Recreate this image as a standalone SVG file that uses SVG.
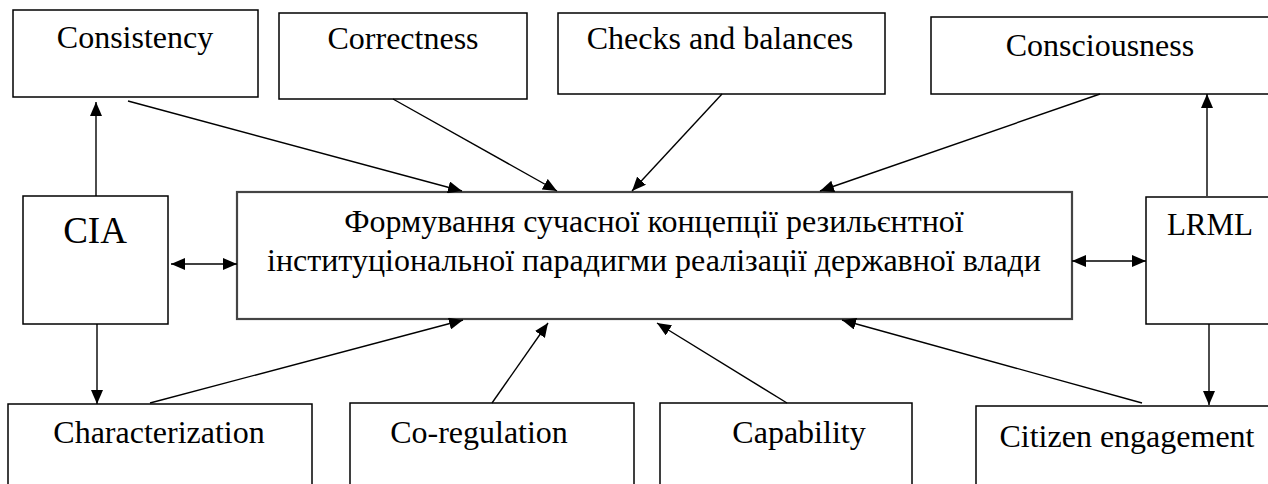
<svg xmlns="http://www.w3.org/2000/svg" width="1268" height="484" viewBox="0 0 1268 484">
  <style>
    .box { fill: #fff; stroke: #000; stroke-width: 1.5; }
    .main { fill: #fff; stroke: #444; stroke-width: 2.2; }
    .lbl { font-family: "Liberation Serif", "Times New Roman", serif; font-size: 32px; fill: #000; text-anchor: middle; }
    .link { stroke: #000; stroke-width: 1.4; fill: none; }
  </style>
  <defs>
    <marker id="ah" viewBox="0 0 14 12" refX="14" refY="6" markerWidth="14" markerHeight="12" markerUnits="userSpaceOnUse" orient="auto-start-reverse">
      <path d="M0,0 L14,6 L0,12 Z" fill="#000"/>
    </marker>
  </defs>
  <rect width="1268" height="484" fill="#fff"/>

  <g id="consistency"><rect class="box" x="13" y="10" width="245" height="87"/><text class="lbl" x="135" y="48">Consistency</text></g>
  <g id="correctness"><rect class="box" x="279" y="13" width="248" height="86"/><text class="lbl" x="403" y="49">Correctness</text></g>
  <g id="checks"><rect class="box" x="558" y="13" width="327" height="81"/><text class="lbl" x="720" y="49">Checks and balances</text></g>
  <g id="consciousness"><rect class="box" x="931" y="17" width="345" height="77"/><text class="lbl" x="1100" y="56">Consciousness</text></g>
  <g id="cia"><rect class="box" x="23" y="196" width="145" height="128"/><text class="lbl" x="95" y="243" style="font-size:37px">CIA</text></g>
  <g id="core"><rect class="main" x="237" y="192" width="835" height="127"/>
    <text class="lbl" x="654" y="232">Формування сучасної концепції резильєнтної</text>
    <text class="lbl" x="654" y="271">інституціональної парадигми реалізації державної влади</text></g>
  <g id="lrml"><rect class="box" x="1146" y="197" width="130" height="127"/><text class="lbl" x="1210" y="235" style="font-size:31px">LRML</text></g>
  <g id="characterization"><rect class="box" x="8" y="404" width="304" height="90"/><text class="lbl" x="159" y="443">Characterization</text></g>
  <g id="coregulation"><rect class="box" x="350" y="403" width="284" height="90"/><text class="lbl" x="479" y="443">Co-regulation</text></g>
  <g id="capability"><rect class="box" x="660" y="403" width="252" height="90"/><text class="lbl" x="799" y="443">Capability</text></g>
  <g id="citizen"><rect class="box" x="976" y="406" width="300" height="90"/><text class="lbl" x="1127" y="447">Citizen engagement</text></g>

  <g id="connectors">
    <line class="link" x1="128" y1="101" x2="462" y2="191" marker-end="url(#ah)"/>
    <line class="link" x1="393" y1="99" x2="557" y2="191" marker-end="url(#ah)"/>
    <line class="link" x1="722" y1="94" x2="632" y2="191" marker-end="url(#ah)"/>
    <line class="link" x1="1100" y1="94" x2="820" y2="191" marker-end="url(#ah)"/>
    <line class="link" x1="96" y1="196" x2="96" y2="102" marker-end="url(#ah)"/>
    <line class="link" x1="171" y1="264" x2="237" y2="264" marker-start="url(#ah)" marker-end="url(#ah)"/>
    <line class="link" x1="1072" y1="261" x2="1146" y2="261" marker-start="url(#ah)" marker-end="url(#ah)"/>
    <line class="link" x1="1207" y1="196" x2="1207" y2="94" marker-end="url(#ah)"/>
    <line class="link" x1="97" y1="324" x2="97" y2="404" marker-end="url(#ah)"/>
    <line class="link" x1="1209" y1="324" x2="1209" y2="405" marker-end="url(#ah)"/>
    <line class="link" x1="150" y1="403" x2="463" y2="320" marker-end="url(#ah)"/>
    <line class="link" x1="492" y1="403" x2="548" y2="323" marker-end="url(#ah)"/>
    <line class="link" x1="787" y1="403" x2="657" y2="323" marker-end="url(#ah)"/>
    <line class="link" x1="1142" y1="403" x2="842" y2="320" marker-end="url(#ah)"/>
  </g>
</svg>
